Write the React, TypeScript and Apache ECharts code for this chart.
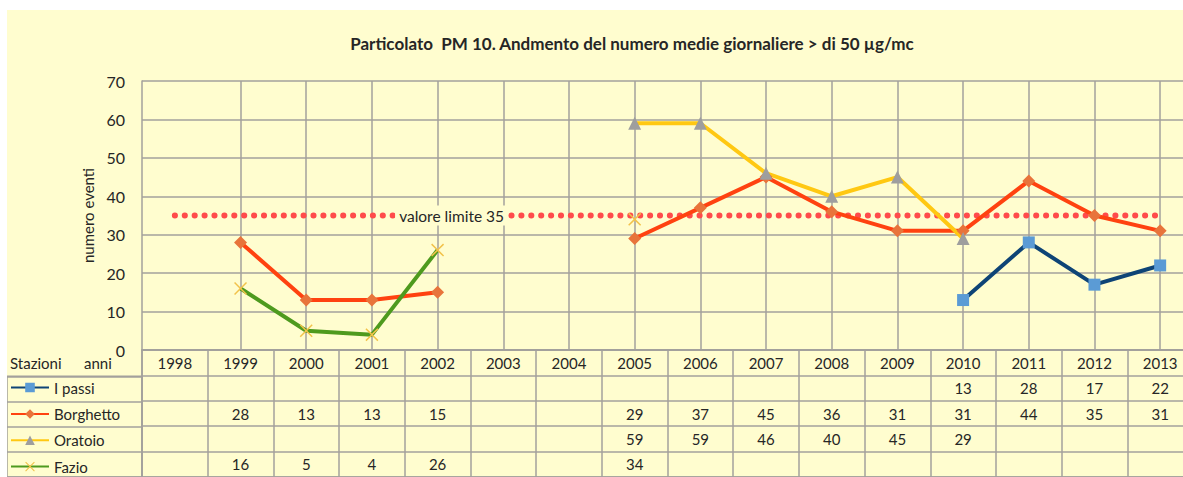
import React, { useEffect, useRef } from "react";
import * as echarts from "echarts";

const titleText = "Particolato  PM 10. Andmento del numero medie giornaliere > di 50 µg/mc";
const yAxisName = "numero eventi";
const years = ["1998", "1999", "2000", "2001", "2002", "2003", "2004", "2005", "2006", "2007", "2008", "2009", "2010", "2011", "2012", "2013"];
const stations = ["I passi", "Borghetto", "Oratoio", "Fazio"];
const iPassi = [null, null, null, null, null, null, null, null, null, null, null, null, 13, 28, 17, 22];
const borghetto = [null, 28, 13, 13, 15, null, null, 29, 37, 45, 36, 31, 31, 44, 35, 31];
const oratoio = [null, null, null, null, null, null, null, 59, 59, 46, 40, 45, 29, null, null, null];
const fazio = [null, 16, 5, 4, 26, null, null, 34, null, null, null, null, null, null, null, null];
const limitValues = [35, 35, 35, 35, 35, 35, 35, 35, 35, 35, 35, 35, 35, 35, 35, 35];
const limitLabel = "valore limite 35";
const limitLabelIndex = 4;
const cornerLeft = "Stazioni";
const cornerRight = "anni";

const FONT = "Lato, 'Noto Sans', sans-serif";
const BG = "#FFFDCF";
const GRID = "#A3A19C";
const TEXT = "#262626";
const X_PATH = "path://M0,1.6 L1.6,0 L10,8.4 L18.4,0 L20,1.6 L11.6,10 L20,18.4 L18.4,20 L10,11.6 L1.6,20 L0,18.4 L8.4,10 Z";

const seriesValues = [iPassi, borghetto, oratoio, fazio];
const legendTops = [369.5, 396, 422.3, 448.6];

export default function App() {
  const ref = useRef<HTMLDivElement>(null);
  useEffect(() => {
    if (!ref.current) return;
    const chart = echarts.init(ref.current, null, { renderer: "svg" });

    const tableCells: [number, number, string][] = [];
    years.forEach((y, i) => tableCells.push([i, 0, y]));
    seriesValues.forEach((arr, r) => {
      arr.forEach((v, i) => {
        if (v !== null && v !== undefined) tableCells.push([i, r + 1, String(v)]);
      });
    });

    const lineCommon = {
      type: "line" as const,
      xAxisIndex: 0,
      yAxisIndex: 0,
      connectNulls: false,
      showSymbol: true,
      z: 3,
    };

    const option: any = {
      animation: false,
      backgroundColor: BG,
      textStyle: { fontFamily: FONT },
      graphic: [
        {
          type: "text",
          x: 625,
          y: 33,
          style: { text: titleText, align: "center", verticalAlign: "middle", fontSize: 17, fontWeight: "bold", fontFamily: FONT, fill: TEXT },
        },
        {
          type: "text",
          x: 3,
          y: 353,
          style: { text: cornerLeft, align: "left", verticalAlign: "middle", fontSize: 15, fontFamily: FONT, fill: TEXT },
        },
        {
          type: "text",
          x: 77,
          y: 353,
          style: { text: cornerRight, align: "left", verticalAlign: "middle", fontSize: 15, fontFamily: FONT, fill: TEXT },
        },
      ],
      legend: stations.map((s, i) => ({
        data: [s],
        orient: "vertical",
        left: 3,
        top: legendTops[i],
        padding: 0,
        itemWidth: 38,
        itemHeight: 12,
        selectedMode: false,
        textStyle: { fontSize: 15, fontFamily: FONT, color: TEXT, lineHeight: 16 },
      })),
      grid: [
        { left: 135, right: 7, top: 71, bottom: 127 },
        { left: 135, right: 7, top: 340, height: 131.5, show: true, borderColor: GRID, borderWidth: 1.5 },
        { left: 0, width: 135, top: 366.3, height: 105.2, show: true, borderColor: GRID, borderWidth: 1.5 },
      ],
      xAxis: [
        {
          type: "category",
          gridIndex: 0,
          data: years,
          boundaryGap: true,
          axisLine: { show: true, lineStyle: { color: GRID, width: 1.5 } },
          axisTick: { show: false },
          axisLabel: { show: false },
          splitLine: {
            show: true,
            alignWithLabel: true,
            interval: (index: number) => index > 0,
            lineStyle: { color: GRID, width: 1.5 },
          },
        },
        {
          type: "category",
          gridIndex: 1,
          data: years,
          boundaryGap: true,
          axisLine: { show: false },
          axisTick: { show: false, interval: 0 },
          axisLabel: { show: false, interval: 0 },
          splitLine: { show: true, interval: 0, lineStyle: { color: GRID, width: 1.5 } },
        },
        {
          type: "category",
          gridIndex: 2,
          data: ["legend"],
          axisLine: { show: false },
          axisTick: { show: false },
          axisLabel: { show: false },
          splitLine: { show: false },
        },
      ],
      yAxis: [
        {
          type: "value",
          gridIndex: 0,
          min: 0,
          max: 70,
          interval: 10,
          name: yAxisName,
          nameLocation: "middle",
          nameGap: 47,
          nameTextStyle: { fontSize: 15, fontFamily: FONT, color: TEXT },
          axisLine: { show: true, lineStyle: { color: GRID, width: 1.5 } },
          axisTick: { show: false },
          axisLabel: { fontSize: 16, fontFamily: FONT, color: TEXT, margin: 17 },
          splitLine: { show: true, lineStyle: { color: GRID, width: 1.5 } },
        },
        {
          type: "category",
          gridIndex: 1,
          inverse: true,
          data: ["", ...stations],
          axisLine: { show: false },
          axisTick: { show: false, interval: 0 },
          axisLabel: { show: false, interval: 0 },
          splitLine: { show: true, interval: 0, lineStyle: { color: GRID, width: 1.5 } },
        },
        {
          type: "category",
          gridIndex: 2,
          inverse: true,
          data: stations,
          axisLine: { show: false },
          axisTick: { show: false, interval: 0 },
          axisLabel: { show: false, interval: 0 },
          splitLine: { show: true, interval: 0, lineStyle: { color: GRID, width: 1.5 } },
        },
      ],
      series: [
        {
          name: "limite",
          type: "line",
          xAxisIndex: 0,
          yAxisIndex: 0,
          symbol: "none",
          z: 2,
          silent: true,
          lineStyle: { color: "#FF4B4B", width: 6, type: [0.1, 9.8], cap: "round" },
          data: limitValues.map((v, i) =>
            i === limitLabelIndex
              ? {
                  value: v,
                  symbol: "circle",
                  symbolSize: 1,
                  itemStyle: { color: "rgba(0,0,0,0)" },
                  label: {
                    show: true,
                    position: "inside",
                    offset: [14, 0],
                    formatter: limitLabel,
                    fontSize: 15.5,
                    fontFamily: FONT,
                    color: TEXT,
                    backgroundColor: BG,
                    padding: [2, 4],
                  },
                }
              : v
          ),
        },
        {
          ...lineCommon,
          name: stations[0],
          data: iPassi,
          symbol: "rect",
          symbolSize: 12,
          itemStyle: { color: "#5B9BD5" },
          lineStyle: { color: "#0E4476", width: 4 },
        },
        {
          ...lineCommon,
          name: stations[1],
          data: borghetto,
          symbol: "diamond",
          symbolSize: 13,
          itemStyle: { color: "#E8743B" },
          lineStyle: { color: "#FF4210", width: 4 },
        },
        {
          ...lineCommon,
          name: stations[2],
          data: oratoio,
          symbol: "triangle",
          symbolSize: 13,
          itemStyle: { color: "#9E9E9E" },
          lineStyle: { color: "#FFC812", width: 4 },
        },
        {
          ...lineCommon,
          name: stations[3],
          data: fazio,
          symbol: X_PATH,
          symbolSize: 13,
          itemStyle: { color: "#F2C24A" },
          lineStyle: { color: "#4E9A1E", width: 4 },
        },
        {
          name: "tabella",
          type: "custom",
          xAxisIndex: 1,
          yAxisIndex: 1,
          silent: true,
          data: tableCells.map((c) => [c[0], c[1]]),
          renderItem: (params: any, api: any) => {
            const pt = api.coord([api.value(0), api.value(1)]);
            return {
              type: "text",
              x: pt[0],
              y: pt[1],
              style: {
                text: tableCells[params.dataIndex][2],
                align: "center",
                verticalAlign: "middle",
                fontSize: 15,
                fontFamily: FONT,
                fill: TEXT,
              },
            };
          },
        },
      ],
    };

    chart.setOption(option);
    return () => chart.dispose();
  }, []);

  return (
    <div style={{ position: "fixed", left: 0, top: 0, width: 1183, height: 477, overflow: "hidden", background: "#FFFFFF" }}>
      <div ref={ref} style={{ position: "absolute", left: 7, top: 10, width: 1193, height: 467 }} />
    </div>
  );
}
